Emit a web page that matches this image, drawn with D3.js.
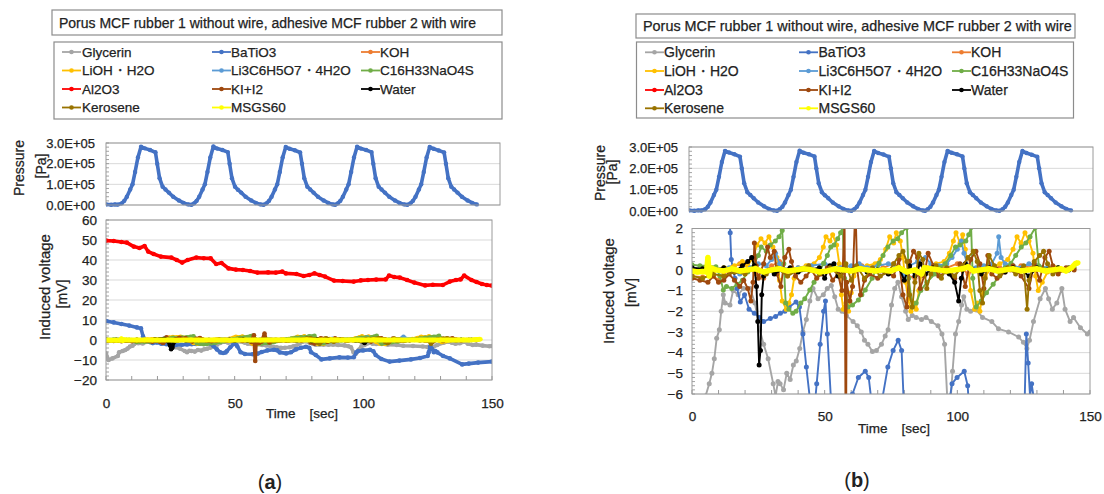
<!DOCTYPE html>
<html>
<head>
<meta charset="utf-8">
<script src="https://cdn.jsdelivr.net/npm/d3@7"></script>
<style>
  body { margin: 0; background: #fff; }
  svg text { font-family: "Liberation Sans", Arial, sans-serif; fill: #222;
             stroke: #222; stroke-width: 0.25px; paint-order: stroke; }
</style>
</head>
<body>
<svg id="chart" width="1104" height="494"></svg>
<script>
// ---------- data ----------
const titleText = "Porus MCF rubber 1 without wire, adhesive MCF rubber 2 with wire";
const seriesNames = ["Glycerin", "BaTiO3", "KOH", "LiOH・H2O", "Li3C6H5O7・4H2O", "C16H33NaO4S",
                     "Al2O3", "KI+I2", "Water", "Kerosene", "MSGS60"];
const seriesColors = ["#A5A5A5", "#4472C4", "#ED7D31", "#FFC000", "#5B9BD5", "#70AD47",
                      "#FF0000", "#9E480E", "#000000", "#997300", "#FFFF00"];

const pressureTicks = [0, 100000, 200000, 300000];
const pressureTickLabels = ["0.0E+00", "1.0E+05", "2.0E+05", "3.0E+05"];
const timeTicks = [0, 50, 100, 150];
const voltageTicksA = [-20, -10, 0, 10, 20, 30, 40, 50, 60];
const voltageTicksB = [-6, -5, -4, -3, -2, -1, 0, 1, 2];

// pressure [s, Pa]
const pressure = [
  [0,3000],[2,1000],[3.5,3000],[4.6,2000],[6.1,8000],[7.1,20000],[8.1,40000],[9.4,75000],[10.3,100000],
  [11.3,160000],[12.4,230000],[13.6,282000],[15.1,274000],[17.1,266000],[19.2,255000],[19.9,200000],
  [20.8,130000],[22.0,88000],[23.1,75000],[24.4,60000],[26.1,40000],[28.3,22000],[30.1,10000],[31.9,3000],
  [33.2,1000],[34.2,8000],[35.2,20000],[36.2,40000],[37.5,75000],[38.4,100000],[39.4,160000],[40.5,230000],
  [41.7,283000],[43.2,273000],[45.2,266000],[47.3,256000],[48.0,200000],[48.9,130000],[50.1,88000],
  [51.2,74000],[52.5,60000],[54.2,40000],[56.4,22000],[58.2,10000],[60.0,3000],[61.2,1000],
  [62.3,8000],[63.3,20000],[64.3,40000],[65.6,75000],[66.5,100000],[67.5,160000],[68.6,230000],
  [69.8,281000],[71.3,272000],[73.3,265000],[75.4,254000],[76.1,200000],[77.0,130000],[78.2,88000],
  [79.3,75000],[80.6,60000],[82.3,40000],[84.5,22000],[86.3,10000],[88.1,3000],[89.0,1000],
  [90.0,8000],[91.0,20000],[92.0,40000],[93.3,75000],[94.2,100000],[95.2,160000],[96.3,230000],
  [97.5,282000],[99.0,273000],[101.0,266000],[103.1,256000],[103.8,200000],[104.7,130000],[105.9,88000],
  [107.0,75000],[108.3,60000],[110.0,40000],[112.2,22000],[114.0,10000],[115.8,3000],[117.0,1000],
  [118.2,8000],[119.2,20000],[120.2,40000],[121.5,75000],[122.4,100000],[123.4,160000],[124.5,230000],
  [125.7,281000],[127.2,272000],[129.2,264000],[131.3,254000],[132.0,200000],[132.9,130000],[134.1,88000],
  [135.2,75000],[136.5,60000],[138.2,40000],[140.4,22000],[142.2,10000],[144.0,3000]
];

// induced voltage [s, mV]
const glycerin = [
  [0,-6.7],[1,-10],[2.5,-9.2],[4.6,-8],[5.1,-6.1],[6.5,-5.5],[7.5,-5],[8.4,-4.3],[9.3,-3.3],[10.3,-2.9],
  [11,-2.0],[11.8,-1.2],[12.5,-1.6],[14.3,-1.7],[15.5,-1.0],[17.4,-1.2],[19.4,-0.9],[21.9,-0.9],[23.7,-1.6],
  [25.5,-2.9],[27,-3.6],[28.7,-4.3],[30.6,-5.5],[31.5,-6.1],[32.4,-5.4],[33.2,-5.5],[34.5,-5.8],[35.7,-5.0],
  [37,-5.3],[38.2,-4.6],[39.3,-4.4],[40.6,-3.8],[41.8,-3.0],[43.1,-2.4],[44.4,-1.5],[45.6,-0.9],[47.5,-1.4],
  [49.5,-1.2],[51,-0.9],[52.5,-0.75],[53.8,-1.3],[55.1,-1.9],[56.5,-2.0],[58.2,-2.2],[60.7,-2.5],[62.3,-2.7],
  [63.8,-3.0],[65,-3.4],[66.3,-3.6],[68,-3.95],[69.5,-3.9],[71.4,-3.6],[72.8,-3.2],[73.9,-2.9],[75.2,-1.7],
  [76.4,-0.9],[77.6,-0.6],[79,-1.3],[80.5,-2.0],[81.5,-2.4],[83,-2.2],[84.5,-2.3],[86.5,-2.4],[88.2,-2.3],
  [90.2,-2.5],[92.7,-2.7],[94.2,-3.1],[95.2,-3.6],[96.2,-6.2],[97.2,-6.8],[98.2,-4.9],[99.3,-3.1],
  [100.5,-2.5],[101.6,-1.7],[102.4,-1.3],[103.6,-1.9],[105,-2.0],[107.2,-1.94],[109.5,-2.3],[113,-2.5],
  [115.5,-2.85],[119.3,-3.0],[123.1,-3.25],[124.9,-3.5],[126.2,-3.8],[127.2,-3.4],[128.7,-2.5],[131.2,-1.4],
  [133.2,-0.9],[134.4,-1.4],[135.8,-1.9],[137.5,-1.6],[139.4,-0.9],[140.6,-1.9],[142.5,-2.5],[143.8,-2.3],
  [146.4,-2.8],[149,-3.1],[150,-3.0]
];
const batio3 = [
  [0,9.5],[3,8.8],[6,8.0],[9,7.2],[12,6.3],[13.6,5.8],[14.4,1.8],[14.8,0.5],[15.5,0.0],[16.2,-0.4],
  [17,-0.9],[18.2,-1.55],[19.8,-1.2],[21.5,-1.9],[23.5,-2.1],[25.5,-2.3],[27,-2.5],[29.5,-2.35],[31.5,-2.25],
  [33.3,-2.1],[35,-2.0],[36.6,-1.8],[39.2,-1.55],[40.5,-1.8],[41.8,-3.1],[43.1,-4.7],[44.4,-6.2],[45.5,-6.5],
  [46.5,-6.2],[47,-5.5],[48.3,-3.6],[49.6,-2.0],[50.3,-1.5],[51,-3.1],[52.3,-6.1],[54,-7],[57,-7.1],
  [59,-6.8],[60.5,-6.0],[62.7,-5.2],[65.3,-4.9],[66.6,-5.2],[67.5,-6.2],[70,-6.7],[71.9,-6.1],[73.8,-4.7],
  [75.8,-3.9],[77.7,-3.4],[79,-3.9],[79.7,-6.1],[81.5,-7.5],[83.7,-9.7],[87,-9.2],[90.7,-8.7],[94,-8.8],
  [96.3,-8.6],[97.3,-6.1],[98,-5.5],[99.9,-5.2],[102.6,-4.9],[103.9,-5.6],[104.8,-7.5],[107,-9.5],
  [110.2,-10.8],[114,-10.3],[118.5,-9.7],[122,-9],[125,-8],[125.4,-6.2],[126,-3.1],[126.7,-4.5],
  [127.4,-6.1],[128,-5.5],[128.8,-6.2],[131,-8],[133.6,-9.2],[138.4,-12.2],[141,-11.8],[144.6,-11.3],[150,-10.8]
];
const koh = [
  [0,-0.3],[4,-0.35],[8,-0.3],[10,-0.5],[12,-0.2],[15,0.1],[18,0.3],[21,0.2],[24,-0.2],[27,-0.4],[30,0.2],
  [33,0.4],[36,-0.3],[40,0.1],[44,0.2],[48,-0.1],[52,0.1],[56,-0.3],[60,0.1],[64,0.2],[68,0],[72,0.1],
  [76,0.3],[80,-0.2],[84,-0.4],[88,0.1],[92,0.2],[96,0.1],[100,0.3],[104,-0.2],[108,0.1],[112,0.2],
  [116,0.1],[120,0],[124,0.2],[128,0.1],[132,0],[136,0.1],[140,0],[144,0.05]
];
const lioh = [
  [0,0.1],[4,0.05],[8,-0.1],[12,0.1],[16,0.2],[19,0.4],[21,0.2],[23,0.6],[24.5,1.2],[26,1.5],[27.5,1.3],
  [29,1.6],[30.5,1.1],[32,0.6],[33,-0.5],[34,-1.5],[35.5,-1.9],[36.5,-1.6],[37.5,-1.2],[38.5,-0.4],[40,0],
  [43,0.2],[46,0.3],[48,0.6],[49.5,1.1],[50.5,1.6],[52,1.4],[53,1.7],[54.5,1.2],[55.5,0.3],[56.3,-1.2],
  [57,-1.9],[58,-1.6],[59,-2.0],[60,-1.1],[61,-0.3],[63,0.1],[66,0.2],[69,0.3],[71,0.5],[73,1.0],
  [74.5,1.6],[76,1.3],[77,1.8],[78.5,1.4],[79.5,0.6],[80.5,-0.6],[81.5,-1.4],[82.5,-2.0],[83.5,-1.6],
  [84.5,-1.9],[85.5,-1.0],[86.5,-0.2],[89,0.1],[92,0.3],[95,0.4],[97,0.8],[98.5,1.4],[99.5,1.8],
  [101,1.3],[102,1.7],[103,1.0],[104,0.2],[105,-1.0],[106.5,-1.9],[107.5,-1.6],[108.5,-2.0],[109.5,-1.2],
  [110.5,-0.3],[113,0.1],[116,0.3],[119,0.5],[121,1.0],[122.5,1.6],[124,1.3],[125.5,1.8],[127,1.4],
  [128.5,0.8],[129.5,-0.3],[130.5,-1.0],[132,-0.6],[134,-0.1],[137,0.1],[140,0.0],[143,0.1]
];
const licitrate = [
  [0,0.1],[5,0.05],[10,0],[14,0.1],[18,-0.2],[22,0.1],[25,0.3],[28,0.2],[30,0.5],[31.5,0.8],[33,0.3],
  [36,0],[40,0.1],[45,0.2],[50,0.3],[53,0.2],[56,0.1],[60,0.2],[63,0.3],[66,0.1],[70,0.2],[74,0.3],
  [78,0.1],[80,-0.3],[82,0.2],[85,0.4],[88,0.6],[90,0.3],[93,0.2],[96,0.3],[98,0.6],[100,1.0],
  [101.5,1.4],[102.5,0.8],[104,0.2],[107,0.1],[110,0.2],[113,0.3],[115,0.8],[115.6,1.6],[116.5,0.6],
  [118,0.3],[121,0.2],[124,0.1],[127,0.3],[130,0.2],[134,0.1],[138,0.0],[142,0.1]
];
const sulfate = [
  [0,0.25],[3,0.2],[6,0.2],[9,0.15],[10.5,-0.3],[11.8,-0.97],[13,-0.8],[15,-0.9],[17,-0.7],[19,-0.5],
  [21,-0.1],[23.5,0.32],[25,0.7],[26.1,1.1],[28,0.9],[29.5,1.2],[31.4,1.4],[32.8,1.6],[34,1.9],[34.6,0.3],
  [35.3,-1.6],[36.5,-1.9],[38,-2.1],[39.2,-2.0],[41,-1.6],[42.5,-1.4],[44.4,-0.97],[46,-0.6],[48,-0.1],
  [49.6,0.32],[51,0.7],[52.3,1.1],[53.5,1.2],[54.9,1.5],[56,1.8],[56.8,2.05],[57.5,-0.4],[58.8,-1.8],
  [60.5,-1.7],[62.7,-1.46],[64,-1.2],[65.3,-0.97],[67.9,-0.4],[70.5,0.32],[72,0.7],[73.8,1.1],[75.8,1.4],
  [77.5,1.5],[79,1.8],[81,2.05],[81.7,-0.4],[83,-1.8],[84.5,-1.6],[86.2,-1.0],[88.5,-0.6],[91.5,-0.2],
  [93.5,0.1],[95.4,0.3],[97.5,0.7],[99.3,1.1],[101,1.2],[103.2,1.4],[104.3,1.7],[105.2,2.05],[105.8,-0.4],
  [107.1,-1.8],[109,-1.5],[111,-1.1],[113.5,-0.7],[116.3,-0.2],[118,0.1],[120.2,0.32],[122,0.7],
  [124.1,1.1],[125.8,1.3],[127.4,1.6],[129.4,2.05],[130.7,0.2],[132,0.1],[135,0.05],[138,0.1],[141,0.05],[144,0.1]
];
const al2o3 = [
  [0,49.7],[3,49.5],[6,49],[8.1,48.7],[10.8,46.7],[13,46],[15,47],[16.4,44.2],[18.5,43],[21.3,41.7],
  [25.4,41.2],[27.5,40],[29.6,38.7],[31.7,40],[35.1,41.2],[38,40.9],[40.7,40.8],[42.8,38],[44.9,38.5],
  [47.6,35.8],[50.5,35.2],[53.2,35],[56,34.5],[58.8,33.7],[63,33.8],[66,33.7],[68.5,34.2],[69.9,33.3],
  [74,33],[76.8,32],[79,32.5],[81,33.3],[83,32.5],[85.1,31.7],[88.6,29.7],[92,29.5],[96.3,29.2],[99,29.8],
  [101.8,30],[105,30.2],[108.7,30.3],[110,32.2],[112,31.5],[114.2,31.2],[117,30],[119.8,28.7],[124,27.3],
  [127,27.6],[130.9,27.5],[133.6,29.2],[136,30],[137.8,30.3],[139.2,32.2],[142,30],[144,29],[146.1,28],
  [148,27.5],[150,27.2]
];
const kii2 = [
  [0,-0.4],[3,-0.5],[6,-0.6],[8,-0.3],[10,-0.6],[12,-0.5],[14,-0.2],[16,-0.5],[18,-0.8],[19.5,-0.5],
  [21,-0.9],[22.2,-1.5],[23,-0.6],[23.5,1.3],[24.2,0.2],[25,-0.4],[27,0.3],[28.5,1.1],[29.5,0.6],[31,0.9],
  [32,-0.2],[33.5,-0.8],[35,0.6],[36.5,1.0],[37.5,0.4],[39,-0.3],[41,-0.6],[43,-0.3],[45,0],[47,-0.4],
  [49,-0.2],[51,0.1],[53,-0.5],[55,-0.2],[56.5,-1.0],[57.5,2.4],[58,-10.5],[58.3,-0.6],[59.5,-1.5],
  [60.5,-0.8],[61.6,3.2],[62.2,0.1],[63.5,-1.2],[65,-0.5],[67,-0.2],[70,-0.4],[73,-0.1],[76,-0.3],
  [78,0.5],[79.5,-1.2],[81,-1.8],[82,0.4],[83.5,0.9],[85,0.6],[86,-0.9],[87.5,-0.3],[89,0.8],[91,0.2],
  [93,-0.3],[96,-0.1],[99,-0.4],[101,0.3],[103,-0.8],[105,0.5],[107,0.9],[108.5,0.3],[110,-0.9],
  [111.5,0.7],[113,-0.2],[115,-0.4],[118,-0.1],[121,0.2],[124,-0.3],[127,-0.9],[129,0.3],[131,-0.5],
  [133,0.6],[134.6,0.9],[136,0.2],[138,-0.2],[141,0.1],[144,0]
];
const water = [
  [0,0.1],[4,0.05],[8,0],[12,0.1],[16,-0.1],[19,0.2],[21,0.4],[22.5,0.6],[23.5,0.2],[24.3,-0.8],
  [24.8,-2.5],[25.3,-4.6],[25.8,-3.9],[26.3,-1.2],[27,-0.3],[29,0],[31,-0.2],[34,0],[37,0.1],[40,-0.1],
  [44,0],[48,0.1],[50,-0.4],[52,0.2],[53.5,0.3],[55,-0.3],[58,0],[62,0.1],[66,-0.1],[70,0],[74,-0.2],
  [78,0.1],[80,-0.5],[82,0.2],[84,-0.3],[86,0.3],[88,-0.2],[91,0.1],[94,0],[97,-0.2],[99,-0.6],
  [100.5,-1.5],[101.5,-0.4],[103,0.3],[106,0],[109,-0.2],[112,0.1],[115,0],[118,-0.1],[121,0.1],
  [124,0],[127,-0.3],[130,0.1],[134,0],[138,0.1],[142,0]
];
const kerosene = [
  [0,-0.3],[4,-0.4],[8,-0.2],[12,-0.3],[16,-0.1],[20,-0.2],[24,0.1],[28,-0.2],[32,0.1],[36,-0.3],[40,0],
  [44,0.2],[48,-0.2],[52,0.1],[56,-0.3],[58,0.3],[60,-0.5],[62,0.2],[65,-0.4],[68,0.1],[71,-0.3],
  [74,-0.1],[76,0.3],[78,0.7],[79.5,0.9],[81,0.4],[82,-1.2],[83,-1.8],[84,-0.6],[85.5,0.8],[87,0.5],
  [88.5,-0.9],[90,-0.2],[92,0.2],[94,-0.4],[96,0.1],[99,-0.3],[102,0.2],[104,0.6],[106,0.9],[107.5,0.4],
  [108.5,-1.0],[109.5,-1.6],[110.5,-0.4],[112,0.7],[114,0.2],[116,-0.3],[119,0.1],[122,-0.2],[125,0.2],
  [126.3,-1.9],[127,-0.5],[129,0.4],[131,0.7],[132.5,0.9],[134,0.3],[136,-0.2],[139,0],[142,0.1]
];
const msgs60 = [
  [0,-0.05],[2,-0.1],[4,-0.08],[5.5,-0.1],[6,0.6],[6.5,-0.3],[7,0.1],[9,0],[12,-0.05],[15,0.05],
  [18,-0.05],[21,0],[24,0.05],[27,-0.1],[30,0],[33,0.05],[36,-0.05],[39,0],[42,0.05],[45,0],[48,-0.1],
  [51,-0.05],[54,0.05],[57,0],[60,-0.05],[63,0.05],[66,0],[69,-0.05],[72,0],[75,-0.05],[78,0.1],
  [81,-0.1],[84,0],[86.5,-0.2],[87.5,0.1],[90,0.05],[93,0],[96,-0.05],[99,0],[102,0.05],[104,0.15],
  [106,-0.05],[109,0],[112,0.05],[115,-0.05],[118,0],[121,0.05],[124,-0.05],[127,0],[130,0.05],
  [133,-0.05],[136,0],[139,0.05],[141,-0.05],[143,0.1],[144.5,0.3],[145.5,0.35]
];
const voltageSeries = [glycerin, batio3, koh, lioh, licitrate, sulfate, al2o3, kii2, water, kerosene, msgs60];

// ---------- layout of the two panels ----------
const panels = [
  {
    id: "a", caption: "a", capX: 270, capY: 489,
    title: { x: 52, y: 10, w: 450, h: 25, tx: 59, size: 14 },
    legend: { x: 54, y: 42, w: 448, h: 77, rows: [52, 70.5, 89, 107.5],
              lineX: [62, 212, 361], textX: [82, 231, 380], lineLen: 19, size: 13.5 },
    p: { x0: 106, x1: 500, yb: 205, yt: 143, tmax: 153,
         titleX: 24, subX: 46, titleY: 168, subY: 166 },
    v: { x0: 106, x1: 492, yb: 380, yt: 220, domain: [-20, 60], ticks: voltageTicksA, minor: 2,
         titleX: 50, subX: 67, titleY: 287, subY: 294, tickY: 403, timeY: 418 },
    lineW: 3.6, dotR: 2.3, yellowW: 5
  },
  {
    id: "b", caption: "b", capX: 857, capY: 487,
    title: { x: 636, y: 14, w: 439, h: 24, tx: 643, size: 14.4 },
    legend: { x: 636.5, y: 42, w: 437, h: 76, rows: [52.3, 71, 90, 108.3],
              lineX: [645, 799, 952], textX: [664, 818.5, 971], lineLen: 19, size: 14 },
    p: { x0: 689, x1: 1093, yb: 211, yt: 147, tmax: 152.3,
         titleX: 605, subX: 617, titleY: 173, subY: 172 },
    v: { x0: 692, x1: 1090, yb: 394, yt: 228.5, domain: [-6, 2], ticks: voltageTicksB, minor: 0.2,
         titleX: 614, subX: 636, titleY: 291, subY: 292.5, tickY: 416, timeY: 433 },
    lineW: 1.9, dotR: 2.5, yellowW: 5.5
  }
];

const svg = d3.select("#chart");
const FONT = '"Liberation Sans", Arial, sans-serif';

function styleAxis(sel, size) {
  sel.attr("font-family", FONT).attr("font-size", size);
  sel.select(".domain").remove();
  sel.selectAll("text").attr("fill", "#1f1f1f");
}

panels.forEach(cfg => {
  const g = svg.append("g").attr("class", "panel-" + cfg.id);

  // title box
  g.append("rect").attr("x", cfg.title.x).attr("y", cfg.title.y)
    .attr("width", cfg.title.w).attr("height", cfg.title.h)
    .attr("fill", "#fff").attr("stroke", "#8c8c8c").attr("stroke-width", 1.2);
  g.append("text").attr("x", cfg.title.tx).attr("y", cfg.title.y + cfg.title.h / 2)
    .attr("dominant-baseline", "central").attr("font-size", cfg.title.size).text(titleText);

  // legend box
  const L = cfg.legend;
  g.append("rect").attr("x", L.x).attr("y", L.y).attr("width", L.w).attr("height", L.h)
    .attr("fill", "#fff").attr("stroke", "#8c8c8c").attr("stroke-width", 1.2);
  const items = g.selectAll(".leg").data(seriesNames).join("g").attr("class", "leg")
    .attr("transform", (d, i) => `translate(0,${L.rows[Math.floor(i / 3)]})`);
  items.append("line")
    .attr("x1", (d, i) => L.lineX[i % 3]).attr("x2", (d, i) => L.lineX[i % 3] + L.lineLen)
    .attr("stroke", (d, i) => seriesColors[i]).attr("stroke-width", 1.8);
  items.append("circle")
    .attr("cx", (d, i) => L.lineX[i % 3] + L.lineLen / 2).attr("r", 2.3)
    .attr("fill", (d, i) => seriesColors[i]);
  items.append("text").attr("x", (d, i) => L.textX[i % 3]).attr("dominant-baseline", "central")
    .attr("font-size", L.size).text(d => d);

  // ---- pressure plot ----
  const P = cfg.p;
  const px = d3.scaleLinear().domain([0, P.tmax]).range([P.x0, P.x1]);
  const py = d3.scaleLinear().domain([0, 300000]).range([P.yb, P.yt]);
  g.append("g").selectAll("line").data(pressureTicks).join("line")
    .attr("x1", P.x0).attr("x2", P.x1).attr("y1", d => py(d)).attr("y2", d => py(d))
    .attr("stroke", "#d9d9d9").attr("stroke-width", 1);
  g.append("g").selectAll("line").data(py.ticks(15)).join("line")
    .attr("x1", P.x0).attr("x2", P.x0 + 3).attr("y1", d => py(d)).attr("y2", d => py(d))
    .attr("stroke", "#8c8c8c").attr("stroke-width", 0.8);
  g.append("g").attr("transform", `translate(${P.x0},0)`)
    .call(d3.axisLeft(py).tickValues(pressureTicks)
      .tickFormat((d, i) => pressureTickLabels[i]).tickSize(0).tickPadding(11))
    .call(s => styleAxis(s, 13));

  const clipP = "clipP-" + cfg.id;
  g.append("clipPath").attr("id", clipP).append("rect")
    .attr("x", P.x0).attr("y", P.yt - 2).attr("width", P.x1 - P.x0).attr("height", P.yb - P.yt + 4);
  const pLine = d3.line().x(d => px(d[0])).y(d => py(d[1]));
  const pg = g.append("g").attr("clip-path", `url(#${clipP})`);
  pg.append("path").datum(pressure).attr("d", pLine).attr("fill", "none")
    .attr("stroke", "#4472C4").attr("stroke-width", 3.6).attr("stroke-linejoin", "round");
  pg.selectAll("circle").data(pressure).join("circle")
    .attr("cx", d => px(d[0])).attr("cy", d => py(d[1])).attr("r", 2.2).attr("fill", "#4472C4");
  g.append("rect").attr("x", P.x0).attr("y", P.yt).attr("width", P.x1 - P.x0).attr("height", P.yb - P.yt)
    .attr("fill", "none").attr("stroke", "#9a9a9a").attr("stroke-width", 1);

  // pressure axis title
  g.append("text").attr("transform", `translate(${P.titleX},${P.titleY}) rotate(-90)`)
    .attr("text-anchor", "middle").attr("font-size", 14).text("Pressure");
  g.append("text").attr("transform", `translate(${P.subX},${P.subY}) rotate(-90)`)
    .attr("text-anchor", "middle").attr("font-size", 14).text("[Pa]");

  // ---- voltage plot ----
  const V = cfg.v;
  const vx = d3.scaleLinear().domain([0, 150]).range([V.x0, V.x1]);
  const vy = d3.scaleLinear().domain(V.domain).range([V.yb, V.yt]);
  g.append("g").selectAll("line").data(V.ticks).join("line")
    .attr("x1", V.x0).attr("x2", V.x1).attr("y1", d => vy(d)).attr("y2", d => vy(d))
    .attr("stroke", "#d9d9d9").attr("stroke-width", 1);
  // minor ticks along the left axis and the time axis
  const minorV = d3.range(V.domain[0], V.domain[1] + V.minor / 2, V.minor);
  g.append("g").selectAll("line").data(minorV).join("line")
    .attr("x1", V.x0).attr("x2", V.x0 + 3).attr("y1", d => vy(d)).attr("y2", d => vy(d))
    .attr("stroke", "#8c8c8c").attr("stroke-width", 0.8);
  g.append("g").selectAll("line").data(vx.ticks(15)).join("line")
    .attr("x1", d => vx(d)).attr("x2", d => vx(d)).attr("y1", V.yb).attr("y2", V.yb - 4)
    .attr("stroke", "#8c8c8c").attr("stroke-width", 0.9);

  g.append("g").attr("transform", `translate(${V.x0},0)`)
    .call(d3.axisLeft(vy).tickValues(V.ticks).tickSize(0).tickPadding(9))
    .call(s => styleAxis(s, 13.5));
  g.append("g").attr("transform", `translate(0,${V.tickY - 5})`)
    .call(d3.axisBottom(vx).tickValues(timeTicks).tickSize(0).tickPadding(0))
    .call(s => styleAxis(s, 13.5));

  const clipV = "clipV-" + cfg.id;
  g.append("clipPath").attr("id", clipV).append("rect")
    .attr("x", V.x0).attr("y", V.yt).attr("width", V.x1 - V.x0).attr("height", V.yb - V.yt);
  const vg = g.append("g").attr("clip-path", `url(#${clipV})`);
  const vLine = d3.line().x(d => vx(d[0])).y(d => vy(d[1]));
  voltageSeries.forEach((data, i) => {
    const col = seriesColors[i];
    const w = i === 10 ? cfg.yellowW : cfg.lineW;
    const sg = vg.append("g");
    sg.append("path").datum(data).attr("d", vLine).attr("fill", "none")
      .attr("stroke", col).attr("stroke-width", w).attr("stroke-linejoin", "round");
    sg.selectAll("circle").data(data).join("circle")
      .attr("cx", d => vx(d[0])).attr("cy", d => vy(d[1])).attr("r", cfg.dotR).attr("fill", col);
  });
  g.append("rect").attr("x", V.x0).attr("y", V.yt).attr("width", V.x1 - V.x0).attr("height", V.yb - V.yt)
    .attr("fill", "none").attr("stroke", "#9a9a9a").attr("stroke-width", 1);

  g.append("text").attr("transform", `translate(${V.titleX},${V.titleY}) rotate(-90)`)
    .attr("text-anchor", "middle").attr("font-size", 15).text("Induced voltage");
  g.append("text").attr("transform", `translate(${V.subX},${V.subY}) rotate(-90)`)
    .attr("text-anchor", "middle").attr("font-size", 14).text("[mV]");
  g.append("text").attr("x", (V.x0 + V.x1) / 2 + 3).attr("y", V.timeY)
    .attr("text-anchor", "middle").attr("font-size", 13.5).text("Time\u3000[sec]");

  // sub-figure caption
  const cap = g.append("text").attr("x", cfg.capX).attr("y", cfg.capY).attr("text-anchor", "middle")
    .attr("font-family", '"Liberation Serif", "DejaVu Serif", serif').attr("font-size", 20)
    .style("stroke-width", "0px");
  cap.append("tspan").text("(");
  cap.append("tspan").attr("font-weight", "bold").text(cfg.caption);
  cap.append("tspan").text(")");
});
</script>
</body>
</html>
